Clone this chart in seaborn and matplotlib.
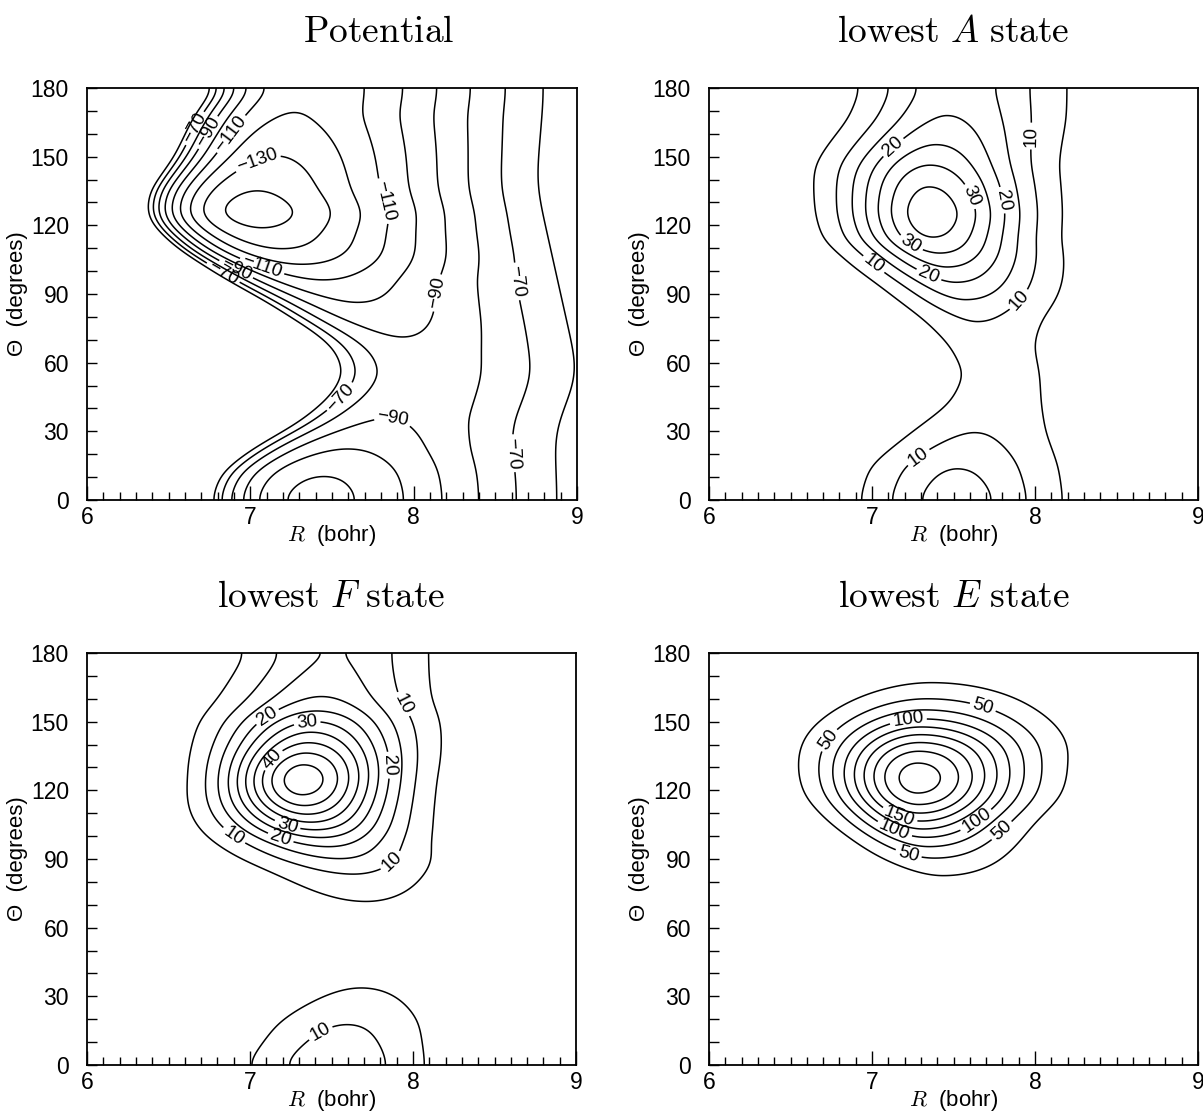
import matplotlib
matplotlib.use('Agg')  # Non-interactive backend
import matplotlib.pyplot as plt
import seaborn as sns
import numpy as np
from matplotlib.ticker import MultipleLocator

sns.set_theme(style="ticks")
plt.rcParams['font.family'] = ['Liberation Sans', 'DejaVu Sans']
plt.rcParams['mathtext.fontset'] = 'cm'

# ---- data ----------------------------------------------------------------
# potential: Morse valley along Theta (depth, position of minimum, wall stiffness)
POT_THETA = [0, 12, 22, 34, 45, 55, 65, 72, 87, 97, 103, 109, 119, 125, 135, 150, 168, 180]
POT_DEPTH = [114, 110, 100, 90, 87, 86, 87, 90, 100, 110, 120, 130, 140, 147, 140, 130, 120, 117]
POT_REQ = [7.40, 7.45, 7.58, 7.82, 7.98, 8.06, 8.02, 7.93, 7.65, 7.42, 7.32, 7.20, 7.06, 7.02, 7.03, 7.16, 7.25, 7.37]
POT_STIFF = [0.82, 0.82, 0.85, 0.88, 0.90, 0.90, 0.90, 0.90, 0.88, 0.88, 0.87, 0.87, 0.87, 0.87, 0.87, 0.88, 0.90, 0.90]
# outer -60 contour (long-range side)
POT_FAR_THETA = [0, 30, 55, 90, 138, 180]
POT_FAR_R60 = [8.88, 8.86, 9.01, 8.90, 8.75, 8.80]
POT_LEVELS = [-140, -130, -120, -110, -100, -90, -80, -70, -60]
POT_LABELED = [-130, -110, -90, -70]

# lowest A state: ridge height, ridge position, inner / outer widths along Theta
A_THETA = [0, 15, 29, 42, 55, 68, 79, 87, 95, 101.6, 107.7, 113, 125, 138, 146.6, 155, 167, 180]
A_PEAK = [18, 15, 10, 7.5, 7, 7.5, 10, 15, 20, 25, 30, 35, 39, 35, 30, 25, 20, 17.5]
A_CENTER = [7.50, 7.52, 7.62, 7.75, 7.80, 7.72, 7.64, 7.58, 7.52, 7.46, 7.42, 7.37, 7.36, 7.35, 7.35, 7.39, 7.46, 7.50]
A_WIN = [0.36, 0.36, 0.33, 0.30, 0.28, 0.27, 0.27, 0.28, 0.30, 0.32, 0.33, 0.34, 0.35, 0.36, 0.37, 0.37, 0.36, 0.36]
A_WOUT = [0.42, 0.42, 0.38, 0.32, 0.28, 0.30, 0.34, 0.37, 0.39, 0.40, 0.40, 0.40, 0.40, 0.41, 0.42, 0.43, 0.44, 0.44]
A_LEVELS = [5, 10, 15, 20, 25, 30, 35]
A_LABELED = [10, 20, 30]

# lowest F state
F_THETA = [0, 19, 34, 50, 62, 71, 78, 84, 90, 96, 102, 109, 116.5, 124.5, 132.5, 141, 150.7, 159.5, 170, 180]
F_PEAK = [14.5, 10, 5, 2.0, 2.5, 5, 7.5, 10, 15.5, 20, 30, 40, 50, 55, 50, 40, 30, 20, 16.5, 14.8]
F_CENTER = [7.52, 7.60, 7.69, 7.72, 7.73, 7.72, 7.68, 7.64, 7.55, 7.47, 7.40, 7.35, 7.32, 7.315, 7.33, 7.36, 7.39, 7.43, 7.48, 7.52]
F_WIN = [0.37, 0.36, 0.34, 0.34, 0.36, 0.38, 0.40, 0.41, 0.41, 0.40, 0.37, 0.35, 0.33, 0.32, 0.33, 0.35, 0.37, 0.38, 0.38, 0.37]
F_WOUT = [0.38, 0.37, 0.36, 0.34, 0.34, 0.35, 0.36, 0.37, 0.38, 0.38, 0.38, 0.38, 0.38, 0.38, 0.39, 0.40, 0.41, 0.41, 0.40, 0.39]
F_LEVELS = [5, 10, 15, 20, 25, 30, 35, 40, 45, 50]
F_LABELED = [10, 20, 30, 40]

# lowest E state
E_THETA = [0, 40, 60, 72, 83, 90, 99, 106, 113, 117, 125.4, 133.5, 138, 145, 151.6, 160.5, 167, 175, 180]
E_PEAK = [0.05, 0.4, 3.5, 10, 25, 50, 100, 150, 200, 225, 246, 225, 200, 150, 100, 50, 25, 11, 7]
E_CENTER = [7.50, 7.50, 7.48, 7.46, 7.45, 7.38, 7.33, 7.30, 7.29, 7.28, 7.277, 7.28, 7.29, 7.30, 7.31, 7.34, 7.37, 7.38, 7.38]
E_WIN = [0.27, 0.27, 0.27, 0.27, 0.27, 0.27, 0.28, 0.30, 0.32, 0.33, 0.34, 0.35, 0.36, 0.37, 0.37, 0.37, 0.37, 0.37, 0.37]
E_WOUT = [0.35, 0.35, 0.35, 0.35, 0.35, 0.35, 0.355, 0.37, 0.40, 0.42, 0.43, 0.44, 0.45, 0.46, 0.465, 0.46, 0.46, 0.46, 0.46]
E_LEVELS = [25, 50, 75, 100, 125, 150, 175, 200, 225]
E_LABELED = [50, 100, 150]

R_TICKS = [6, 7, 8, 9]
THETA_TICKS = [0, 30, 60, 90, 120, 150, 180]

# grid the fields are evaluated on
R_GRID = np.linspace(6.0, 9.0, 361)
THETA_GRID = np.linspace(0.0, 180.0, 361)

# label anchor points (R, Theta) -- where the labels sit in the original
POT_LABEL_AT = [(6.67, 162), (6.78, 159), (6.90, 159), (7.05, 147), (6.82, 97.6),
                (6.90, 99), (7.06, 99.7), (7.76, 129), (8.14, 90.5), (8.58, 95),
                (8.62, 20.5), (7.87, 33.7), (7.57, 43.7)]
A_LABEL_AT = [(7.15, 152.5), (7.98, 159), (7.61, 132.8), (7.83, 131.4), (7.23, 111),
              (7.34, 97), (6.97, 99.3), (7.91, 87), (7.28, 19.2)]
F_LABEL_AT = [(7.10, 152.9), (7.35, 150), (7.95, 158), (7.13, 134), (7.85, 131),
              (7.22, 102.7), (7.18, 97.6), (6.89, 99), (7.86, 89.6), (7.42, 15.6)]
E_LABEL_AT = [(7.68, 156.4), (7.22, 151.8), (6.74, 141.7), (7.17, 109), (7.13, 101.5),
              (7.67, 103.7), (7.22, 91.2), (7.84, 99)]

FIG_W, FIG_H = 1203, 1119
# axes boxes in pixels: left, top, width, height
BOXES = {
    'pot': (87, 88, 490, 412),
    'A': (709, 88, 489, 412),
    'F': (87, 653, 489, 412),
    'E': (709, 653, 489, 412),
}


def theta_profile(nodes, values, log=False, sigma=4.0):
    """Smooth profile along Theta through the read-off nodes (mirror at 0 and 180)."""
    t = np.asarray(nodes, float)
    v = np.asarray(values, float)
    if log:
        v = np.log(v)
    t_ext = np.concatenate([-t[:0:-1], t, 360 - t[-2::-1]])
    v_ext = np.concatenate([v[:0:-1], v, v[-2::-1]])
    fine = np.arange(-60, 240.001, 0.25)
    prof = np.interp(fine, t_ext, v_ext)
    k = np.arange(-4 * sigma, 4 * sigma + 0.001, 0.25)
    kern = np.exp(-k ** 2 / (2 * sigma ** 2))
    prof = np.convolve(prof, kern / kern.sum(), mode='same')
    out = np.interp(THETA_GRID, fine, prof)
    return np.exp(out) if log else out


def potential_field():
    De = theta_profile(POT_THETA, POT_DEPTH)[:, None]
    Re = theta_profile(POT_THETA, POT_REQ)[:, None]
    a_in = theta_profile(POT_THETA, POT_STIFF)[:, None]
    r60 = theta_profile(POT_FAR_THETA, POT_FAR_R60, sigma=8.0)[:, None]
    a_out = -np.log(1 - np.sqrt(1 - 60.0 / De)) / (r60 - Re)
    x = R_GRID[None, :] - Re
    y = np.exp(-np.where(x < 0, a_in, a_out) * x)
    return De * (y ** 2 - 2 * y)


def density_field(theta, peak, center, w_in, w_out):
    P = theta_profile(theta, peak, log=True)[:, None]
    c = theta_profile(theta, center)[:, None]
    s_in = theta_profile(theta, w_in)[:, None]
    s_out = theta_profile(theta, w_out)[:, None]
    d = R_GRID[None, :] - c
    s = np.where(d < 0, s_in, s_out)
    return P * np.exp(-d ** 2 / (2 * s ** 2))


def fmt_label(v):
    return f"{v:.0f}".replace('-', '\u2212')


def draw_panel(fig, key, field, levels, labeled, label_at, title, title_x=0.5):
    l, t, w, h = BOXES[key]
    ax = fig.add_axes([l / FIG_W, 1 - (t + h) / FIG_H, w / FIG_W, h / FIG_H])
    plain = [lv for lv in levels if lv not in labeled]
    ax.contour(R_GRID, THETA_GRID, field, levels=plain, colors='black',
               linewidths=1.1, linestyles='solid')
    cs = ax.contour(R_GRID, THETA_GRID, field, levels=labeled, colors='black',
                    linewidths=1.1, linestyles='solid')
    ax.clabel(cs, manual=label_at, inline=True, inline_spacing=3,
              fmt=fmt_label, fontsize=13.5)

    ax.set_xlim(6, 9)
    ax.set_ylim(0, 180)
    ax.set_xticks(R_TICKS)
    ax.set_yticks(THETA_TICKS)
    ax.xaxis.set_minor_locator(MultipleLocator(0.1))
    ax.yaxis.set_minor_locator(MultipleLocator(10))
    ax.tick_params(which='both', direction='in', top=False, right=False,
                   width=1.0, color='black', labelsize=16.5, labelcolor='black')
    ax.tick_params(axis='x', which='major', length=10, pad=4)
    ax.tick_params(axis='x', which='minor', length=6)
    ax.tick_params(axis='y', which='major', length=7, pad=13)
    ax.tick_params(axis='y', which='minor', length=7)
    for sp in ax.spines.values():
        sp.set_linewidth(1.3)
        sp.set_color('black')

    ax.set_xlabel(r'$R$  (bohr)', fontsize=16, color='black')
    ax.xaxis.set_label_coords(0.5, -0.055)
    ax.set_ylabel('\u0398  (degrees)', fontsize=16, color='black')
    ax.yaxis.set_label_coords(-0.12, 0.5)
    ax.set_title(title, fontsize=27, pad=33, x=title_x, color='black')
    ax.grid(False)
    return ax


fig = plt.figure(figsize=(FIG_W / 100, FIG_H / 100), dpi=100)
fig.patch.set_facecolor('white')

draw_panel(fig, 'pot', potential_field(), POT_LEVELS, POT_LABELED, POT_LABEL_AT,
           r'$\mathrm{Potential}$', title_x=0.596)
draw_panel(fig, 'A', density_field(A_THETA, A_PEAK, A_CENTER, A_WIN, A_WOUT),
           A_LEVELS, A_LABELED, A_LABEL_AT, r'$\mathrm{lowest}\ A\ \mathrm{state}$')
draw_panel(fig, 'F', density_field(F_THETA, F_PEAK, F_CENTER, F_WIN, F_WOUT),
           F_LEVELS, F_LABELED, F_LABEL_AT, r'$\mathrm{lowest}\ F\ \mathrm{state}$')
draw_panel(fig, 'E', density_field(E_THETA, E_PEAK, E_CENTER, E_WIN, E_WOUT),
           E_LEVELS, E_LABELED, E_LABEL_AT, r'$\mathrm{lowest}\ E\ \mathrm{state}$')

fig.savefig('out.png', dpi=100, facecolor='white')
plt.close(fig)
